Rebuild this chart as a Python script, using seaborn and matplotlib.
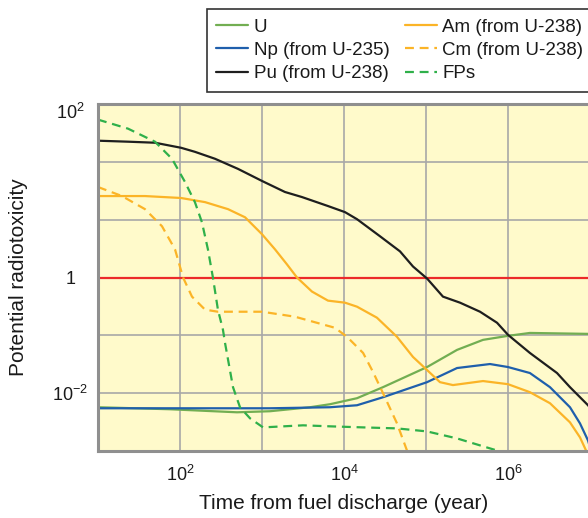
import matplotlib
matplotlib.use("Agg")
import matplotlib.pyplot as plt
import matplotlib.ticker as mticker
from matplotlib.transforms import ScaledTranslation
import pandas as pd
import seaborn as sns

# values (years, relative radiotoxicity)
u_years = [10, 75.5, 495, 1250, 3850, 6750, 14400, 29900, 103000, 239000, 496000, 1.0e6, 1.85e6,
           9.46e6, 1.1e7]
u_tox = [0.00571, 0.00527, 0.00467, 0.00487, 0.00571, 0.00644, 0.00818, 0.0127, 0.0283, 0.056, 0.0835,
         0.098, 0.110, 0.106, 0.106]

np_years = [10, 1250, 6750, 14400, 29900, 103000, 239000, 603000, 1.0e6, 1.85e6, 3.25e6, 5.7e6,
            7.55e6, 9.46e6, 1.1e7]
np_tox = [0.00548, 0.00548, 0.00571, 0.00618, 0.0085, 0.0155, 0.0272, 0.0319, 0.0283, 0.0223, 0.0127,
          0.00571, 0.003, 0.00152, 0.00074]

pu_years = [10, 23.2, 49.5, 103, 152, 267, 510, 1000, 1905, 3073, 6380, 10280, 14400, 27500, 48200,
            69400, 103000, 161000, 260000, 456000, 735000, 1.0e6, 1.85e6, 3.96e6, 5.7e6, 9.46e6, 1.32e7]
pu_tox = [232, 223, 214, 175, 149, 113, 75.5, 46.7, 30.1, 24.6, 17.2, 13.5, 10.2, 5.16, 2.83,
          1.55, 0.96, 0.467, 0.367, 0.256, 0.165, 0.102, 0.0496, 0.0223, 0.0127, 0.00618, 0.0034]

am_years = [10, 37.4, 103, 202, 385, 621, 1000, 1440, 2020, 2670, 4070, 6380, 10280, 14400, 25200,
            44300, 69400, 103000, 148000, 213000, 496000, 1.0e6, 1.85e6, 3.25e6, 5.7e6, 7.55e6,
            9.19e6, 1.15e7]
am_tox = [25.6, 25.6, 23.7, 20.1, 15.2, 11.0, 5.6, 3.07, 1.68, 1.0, 0.571, 0.398, 0.367, 0.313, 0.202,
          0.0942, 0.0423, 0.0251, 0.0155, 0.0138, 0.0162, 0.0143, 0.0104, 0.0067, 0.00313, 0.00172,
          0.00094, 0.00037]

cm_years = [10, 19.6, 37.4, 60.3, 86.9, 109, 140, 202, 290, 1000, 2520, 7760, 10900, 17100, 22600,
            29900, 44300, 58600, 67600]
cm_tox = [36.7, 25.6, 15.2, 7.7, 3.07, 1.0, 0.467, 0.278, 0.256, 0.256, 0.21, 0.135, 0.094, 0.0496,
          0.0232, 0.01, 0.003, 0.00102, 0.00056]

fp_years = [10, 23.2, 49.5, 79.8, 115, 152, 185, 219, 252, 290, 334, 354, 443, 539, 715, 1030, 3160,
            6750, 17100, 44300, 103000, 239000, 456000, 735000, 1.22e6]
fp_tox = [537, 375, 223, 113, 44.9, 20.1, 9.05, 3.07, 1.0, 0.278, 0.125, 0.074, 0.0127, 0.00571,
          0.00367, 0.00256, 0.00278, 0.00267, 0.00256, 0.00246, 0.00218, 0.00165, 0.00125, 0.00102,
          0.00068]

series = [
    ("U", u_years, u_tox, "#72ae52", "-"),
    ("Np (from U-235)", np_years, np_tox, "#1f5fac", "-"),
    ("Pu (from U-238)", pu_years, pu_tox, "#1e1e1e", "-"),
    ("Am (from U-238)", am_years, am_tox, "#fbb427", "-"),
    ("Cm (from U-238)", cm_years, cm_tox, "#fbb427", (0, (4, 2.6))),
    ("FPs", fp_years, fp_tox, "#2fb04a", (0, (4, 2.6))),
]

sns.set_theme(style="white")
plt.rcParams["font.family"] = ["Liberation Sans", "DejaVu Sans"]
plt.rcParams["mathtext.fontset"] = "custom"
plt.rcParams["mathtext.rm"] = "Liberation Sans"
plt.rcParams["mathtext.it"] = "Liberation Sans:italic"

fig = plt.figure(figsize=(5.88, 5.18), dpi=100)
ax = fig.add_axes([98 / 588, 67 / 518, 492 / 588, 347 / 518])
ax.set_facecolor("#fffacb")

for name, xs, ys, color, ls in series:
    df = pd.DataFrame({"years": xs, "tox": ys})
    sns.lineplot(data=df, x="years", y="tox", ax=ax, color=color, linestyle=ls,
                 linewidth=1.6, label=name, estimator=None, sort=False)

ax.axhline(1, color="#ec2a2a", linewidth=1.6, zorder=1.5)

ax.set_xscale("log")
ax.set_yscale("log")
ax.set_xlim(10, 1e7)
ax.set_ylim(1e-3, 1e3)

# gridlines every decade, labels only on a few
x_labels = {2: r"$\mathregular{10^{2}}$", 4: r"$\mathregular{10^{4}}$", 6: r"$\mathregular{10^{6}}$"}
y_labels = {-2: r"$\mathregular{10^{-2}}$", 0: "1", 3: r"$\mathregular{10^{2}}$"}
ax.set_xticks([10.0 ** k for k in range(1, 8)])
ax.set_xticklabels([x_labels.get(k, "") for k in range(1, 8)])
ax.set_yticks([10.0 ** k for k in range(-3, 4)])
ax.set_yticklabels([y_labels.get(k, "") for k in range(-3, 4)])
ax.xaxis.set_minor_locator(mticker.LogLocator(base=10, subs=range(2, 10), numticks=20))
ax.yaxis.set_minor_locator(mticker.LogLocator(base=10, subs=range(2, 10), numticks=20))
ax.xaxis.set_minor_formatter(mticker.NullFormatter())
ax.yaxis.set_minor_formatter(mticker.NullFormatter())

ax.tick_params(which="major", length=0, labelsize=13, colors="#1a1a1a")
ax.tick_params(axis="x", which="major", pad=10)
ax.tick_params(axis="y", which="major", pad=20)
ax.tick_params(which="minor", direction="in", length=3, width=0.8, color="#9a9a9a")
plt.setp(ax.get_yticklabels(), ha="center")
# the top label sits a little below the top spine in the reference
top_lbl = ax.get_yticklabels()[-1]
top_lbl.set_transform(top_lbl.get_transform() + ScaledTranslation(0, -5 / 72, fig.dpi_scale_trans))

ax.grid(True, which="major", color="#a8a8a8", linewidth=1.2)
ax.set_axisbelow(True)
for side in ["left", "bottom", "top"]:
    ax.spines[side].set_color("#8f8f8f")
    ax.spines[side].set_linewidth(2.2)
ax.spines["right"].set_visible(False)

ax.set_xlabel("Time from fuel discharge (year)", fontsize=15, color="#1a1a1a", va="top")
ax.xaxis.set_label_coords(0.5, -0.125)
ax.set_ylabel("Potential radiotoxicity", fontsize=15, color="#1a1a1a", va="center")
ax.yaxis.set_label_coords(-0.161, 0.5)

handles, labels = ax.get_legend_handles_labels()
ax.get_legend().remove()
leg = fig.legend(handles, labels, ncol=2, loc="upper left", bbox_to_anchor=(207 / 588, 1 - 9 / 518),
                 borderaxespad=0, fontsize=13.5, frameon=True, fancybox=False, edgecolor="black",
                 handlelength=1.7, handletextpad=0.3, columnspacing=0.8, labelspacing=0.33,
                 borderpad=0.5)
leg.get_frame().set_linewidth(1.2)
for t in leg.get_texts():
    t.set_color("#1a1a1a")

fig.savefig("out.png", dpi=100)
